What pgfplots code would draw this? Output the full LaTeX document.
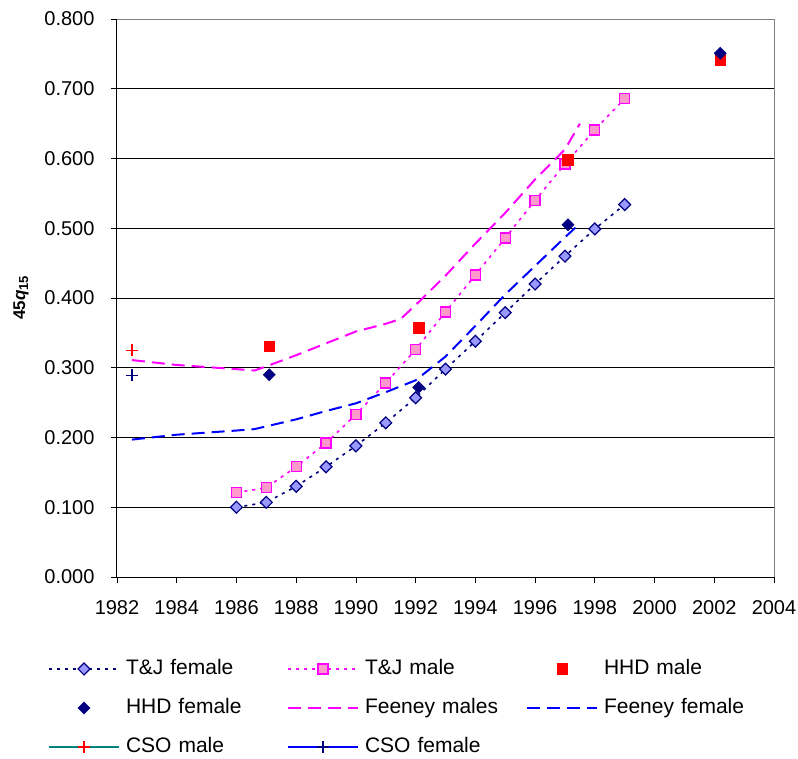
\documentclass[border=0pt]{standalone}
\usepackage{fontspec}
\setmainfont{Liberation Sans}
\usepackage{pgfplots}
\pgfplotsset{compat=1.18}
\definecolor{navy}{RGB}{0,0,128}
\definecolor{lav}{RGB}{153,153,255}
\definecolor{mag}{RGB}{255,0,255}
\definecolor{pinkf}{RGB}{255,153,204}
\definecolor{teal2}{RGB}{0,128,128}
\pgfplotsset{
  lineleg/.style={legend image code/.code={\draw[mark repeat=2,mark phase=2,##1] plot coordinates {(0pt,0pt)(35pt,0pt)(70pt,0pt)};}},
  markleg/.style={legend image code/.code={\path[draw=none,fill=none] (0pt,0pt) -- (70pt,0pt); \draw[##1,only marks] plot coordinates {(35pt,0pt)};}},
}
\newcommand{\legtxt}[1]{\mbox{#1}}
\begin{document}
\begin{tikzpicture}
\begin{axis}[
  at={(0,0)}, anchor=south west,
  scale only axis, width=657pt, height=558pt,
  xmin=1982, xmax=2004, ymin=0, ymax=0.8,
  xtick={1982,1984,...,2004},
  ytick={0,0.1,...,0.8},
  axis lines=left, axis line style={-, black, line width=1pt},
  tick align=outside, major tick length=6pt,
  tick style={black, line width=0.8pt},
  ymajorgrids, grid style={black, line width=0.7pt},
  /pgf/number format/assume math mode=true,
  xticklabel style={/pgf/number format/1000 sep={}, font=\fontsize{20}{24}\selectfont, yshift=-14pt},
  yticklabel style={/pgf/number format/.cd, fixed, fixed zerofill, precision=3, /tikz/.cd, font=\fontsize{20}{24}\selectfont, xshift=-13pt},
  ylabel={\textbf{45\textit{q}\raisebox{-3pt}{\fontsize{13}{15}\selectfont 15}}},
  every axis y label/.style={at={(rel axis cs:0,0.5)}, rotate=90, anchor=center, yshift=96pt, font=\fontsize{17}{19}\selectfont},
  legend columns=3,
  legend cell align=left,
  legend style={draw=none, fill=none, inner sep=0pt, outer sep=0pt,
    at={(-0.105,-0.1478)}, anchor=north west,
    font=\fontsize{21}{25}\selectfont,
    column sep=6pt, row sep=20pt,
    nodes={inner xsep=0pt, inner ysep=0pt, text width=155pt, align=left, text height=15pt, text depth=4pt}},
  clip=false,
]
\draw[gray, line width=1pt] (rel axis cs:0,1) -- (rel axis cs:1,1) -- (rel axis cs:1,0);
% T&J female
\addplot[navy, line width=1.6pt, dash pattern=on 3pt off 5pt, mark=square*, mark size=4.2pt,
  mark options={solid, rotate=45, fill=lav, draw=navy, line width=1.2pt}, lineleg] coordinates {
(1986,0.100)(1987,0.107)(1988,0.130)(1989,0.158)(1990,0.188)(1991,0.221)(1992,0.257)
(1993,0.298)(1994,0.338)(1995,0.379)(1996,0.420)(1997,0.460)(1998,0.499)(1999,0.534)};
\addlegendentry{\legtxt{T\&J female}}
% T&J male
\addplot[mag, line width=1.6pt, dash pattern=on 3pt off 5pt, mark=square*, mark size=5pt,
  mark options={solid, fill=pinkf, draw=mag, line width=1.2pt}, lineleg] coordinates {
(1986,0.121)(1987,0.128)(1988,0.158)(1989,0.192)(1990,0.233)(1991,0.278)(1992,0.326)
(1993,0.380)(1994,0.433)(1995,0.486)(1996,0.540)(1997,0.592)(1998,0.641)(1999,0.686)};
\addlegendentry{\legtxt{T\&J male}}
% HHD male
\addplot[only marks, mark=square*, mark size=5.3pt, mark options={fill=red, draw=red}, markleg] coordinates {
(1987.1,0.331)(1992.1,0.357)(1997.1,0.598)(2002.2,0.742)};
\addlegendentry{\legtxt{HHD male}}
% HHD female
\addplot[only marks, mark=square*, mark size=4.3pt, mark options={rotate=45, fill=navy, draw=navy}, markleg] coordinates {
(1987.1,0.290)(1992.1,0.272)(1997.1,0.505)(2002.2,0.751)};
\addlegendentry{\legtxt{HHD female}}
% Feeney males
\addplot[mag, line width=2pt, dash pattern=on 13pt off 7pt, lineleg] coordinates {
(1982.5,0.311)(1984,0.304)(1986,0.298)(1986.6,0.296)(1987,0.302)(1988,0.318)(1989,0.335)
(1990,0.352)(1991,0.363)(1991.5,0.370)(1992,0.390)(1993,0.432)(1994,0.478)(1995,0.522)
(1996,0.570)(1997,0.613)(1997.5,0.650)};
\addlegendentry{\legtxt{Feeney males}}
% Feeney female
\addplot[blue, line width=2pt, dash pattern=on 13pt off 7pt, lineleg] coordinates {
(1982.5,0.197)(1984,0.204)(1986,0.210)(1986.6,0.212)(1987,0.216)(1988,0.226)(1989,0.238)
(1990,0.249)(1991,0.265)(1992,0.282)(1993,0.316)(1994,0.360)(1995,0.405)(1996,0.446)
(1997,0.487)(1997.5,0.507)};
\addlegendentry{\legtxt{Feeney female}}
% CSO male
\addplot[teal2, line width=2pt, mark=+, mark size=6pt, mark options={red, line width=1.2pt}, lineleg] coordinates {
(1982.5,0.325)};
\addlegendentry{\legtxt{CSO male}}
% CSO female
\addplot[blue, line width=2pt, mark=+, mark size=6pt, mark options={navy, line width=1.2pt}, lineleg] coordinates {
(1982.5,0.289)};
\addlegendentry{\legtxt{CSO female}}
\end{axis}
\pgfresetboundingbox
\path (-117pt,-181pt) rectangle (681pt,577pt);
\end{tikzpicture}
\end{document}
